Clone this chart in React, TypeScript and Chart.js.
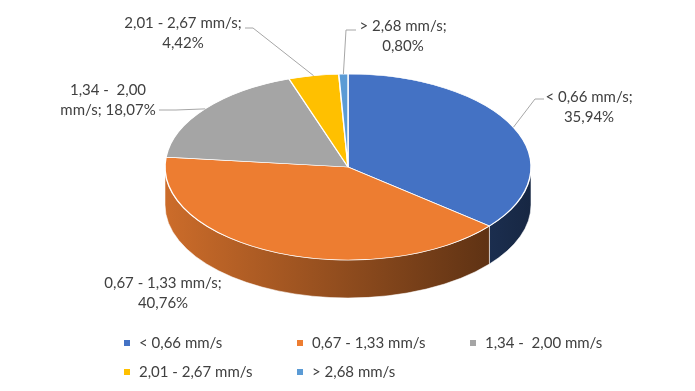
import React, { useEffect, useRef } from "react";
import { Chart, registerables } from "chart.js";

Chart.register(...registerables);

// ---- data ----
const categories = ["< 0,66 mm/s", "0,67 - 1,33 mm/s", "1,34 -  2,00 mm/s", "2,01 - 2,67 mm/s", "> 2,68 mm/s"];
const shares = [35.94, 40.76, 18.07, 4.42, 0.8];
const shareLabels = ["35,94%", "40,76%", "18,07%", "4,42%", "0,80%"];
const topColors = ["#4472c4", "#ed7d31", "#a5a5a5", "#ffc000", "#5b9bd5"];

// ---- layout (not data) ----
const W = 695;
const H = 391;
const CX = 348;
const CY = 167;
const RX = 183;
const RY = 93;
const DEPTH = 38;
const FONT = "15px Lato, 'Open Sans', sans-serif";
const TEXT_COLOR = "#404040";
const LINE_COLOR = "#a6a6a6";
// label text-block anchors (centre x, first-line centre y) and leader polyline ends
const labelAnchors = [
  { x: 589, y: 97 },
  { x: 163, y: 283 },
  { x: 108, y: 90 },
  { x: 183, y: 23 },
  { x: 403, y: 26 },
];
const labelLines = [
  [categories[0] + ";", shareLabels[0]],
  [categories[1] + ";", shareLabels[1]],
  ["1,34 -  2,00", "mm/s; " + shareLabels[2]],
  [categories[3] + ";", shareLabels[3]],
  [categories[4] + ";", shareLabels[4]],
];
const leaders: (number[][] | null)[] = [
  [[535, 99], [544, 99]],
  null,
  [[176, 110], [159, 110]],
  [[253, 28], [245, 28]],
  [[346, 30], [356, 30]],
];
const legendCols = [127, 300, 473];
const legendRows = [343, 372];

function shade(hex: string, f: number) {
  const n = parseInt(hex.slice(1), 16);
  const r = Math.round(((n >> 16) & 255) * f);
  const g = Math.round(((n >> 8) & 255) * f);
  const b = Math.round((n & 255) * f);
  return `rgb(${r},${g},${b})`;
}

const pie3d = {
  id: "pie3d",
  beforeDatasetsDraw(chart: any) {
    const ctx = chart.ctx as CanvasRenderingContext2D;
    const meta = chart.getDatasetMeta(0);
    const arcs = meta.data as any[];
    if (!arcs.length) return;
    const p = arcs[0].getProps(["x", "y", "outerRadius"], true);
    // side walls (visible front half: canvas angles 0..PI)
    arcs.forEach((arc, i) => {
      const a = arc.getProps(["startAngle", "endAngle"], true);
      const s = Math.max(a.startAngle, 0);
      const e = Math.min(a.endAngle, Math.PI);
      if (e <= s) return;
      const base = topColors[i % topColors.length];
      const grad = ctx.createLinearGradient(CX - RX, 0, CX + RX, 0);
      grad.addColorStop(0, shade(base, 0.86));
      grad.addColorStop(1, shade(base, 0.34));
      ctx.save();
      ctx.beginPath();
      ctx.ellipse(CX, CY, RX, RY, 0, s, e, false);
      ctx.ellipse(CX, CY + DEPTH, RX, RY, 0, e, s, true);
      ctx.closePath();
      ctx.fillStyle = grad;
      ctx.fill();
      ctx.strokeStyle = "rgba(255,255,255,0.55)";
      ctx.lineWidth = 1;
      ctx.stroke();
      ctx.restore();
    });
    ctx.save();
    ctx.translate(CX, CY);
    ctx.scale(RX / p.outerRadius, RY / p.outerRadius);
    ctx.translate(-p.x, -p.y);
  },
  afterDatasetsDraw(chart: any) {
    const ctx = chart.ctx as CanvasRenderingContext2D;
    ctx.restore();
    const meta = chart.getDatasetMeta(0);
    const arcs = meta.data as any[];
    ctx.save();
    ctx.font = FONT;
    ctx.textBaseline = "middle";
    ctx.textAlign = "center";
    arcs.forEach((arc, i) => {
      const a = arc.getProps(["startAngle", "endAngle"], true);
      const mid = (a.startAngle + a.endAngle) / 2;
      const sx = CX + RX * Math.cos(mid);
      const sy = CY + RY * Math.sin(mid);
      const ld = leaders[i];
      if (ld) {
        ctx.beginPath();
        ctx.moveTo(sx, sy);
        ld.forEach((pt) => ctx.lineTo(pt[0], pt[1]));
        ctx.strokeStyle = LINE_COLOR;
        ctx.lineWidth = 1;
        ctx.stroke();
      }
      const an = labelAnchors[i];
      ctx.fillStyle = TEXT_COLOR;
      labelLines[i].forEach((t, k) => ctx.fillText(t, an.x, an.y + k * 20));
    });
    // legend
    ctx.textAlign = "left";
    categories.forEach((c, i) => {
      const col = legendCols[i % 3];
      const row = legendRows[Math.floor(i / 3)];
      ctx.fillStyle = topColors[i];
      ctx.fillRect(col - 3, row - 3, 6, 6);
      ctx.fillStyle = TEXT_COLOR;
      ctx.fillText(c, col + 12, row);
    });
    ctx.restore();
  },
};

export default function App() {
  const ref = useRef<HTMLCanvasElement>(null);
  useEffect(() => {
    if (!ref.current) return;
    const chart = new Chart(ref.current, {
      type: "pie",
      data: {
        labels: categories,
        datasets: [
          {
            data: shares,
            backgroundColor: topColors,
            borderColor: "#ffffff",
            borderWidth: 1.5,
          },
        ],
      },
      options: {
        responsive: false,
        animation: false,
        events: [],
        layout: { padding: 0 },
        plugins: {
          legend: { display: false },
          tooltip: { enabled: false },
        },
      },
      plugins: [pie3d],
    });
    return () => chart.destroy();
  }, []);
  return (
    <div style={{ position: "fixed", left: 0, top: 0, width: W, height: H, background: "#fff" }}>
      <canvas ref={ref} width={W} height={H} style={{ width: W, height: H }} />
    </div>
  );
}
